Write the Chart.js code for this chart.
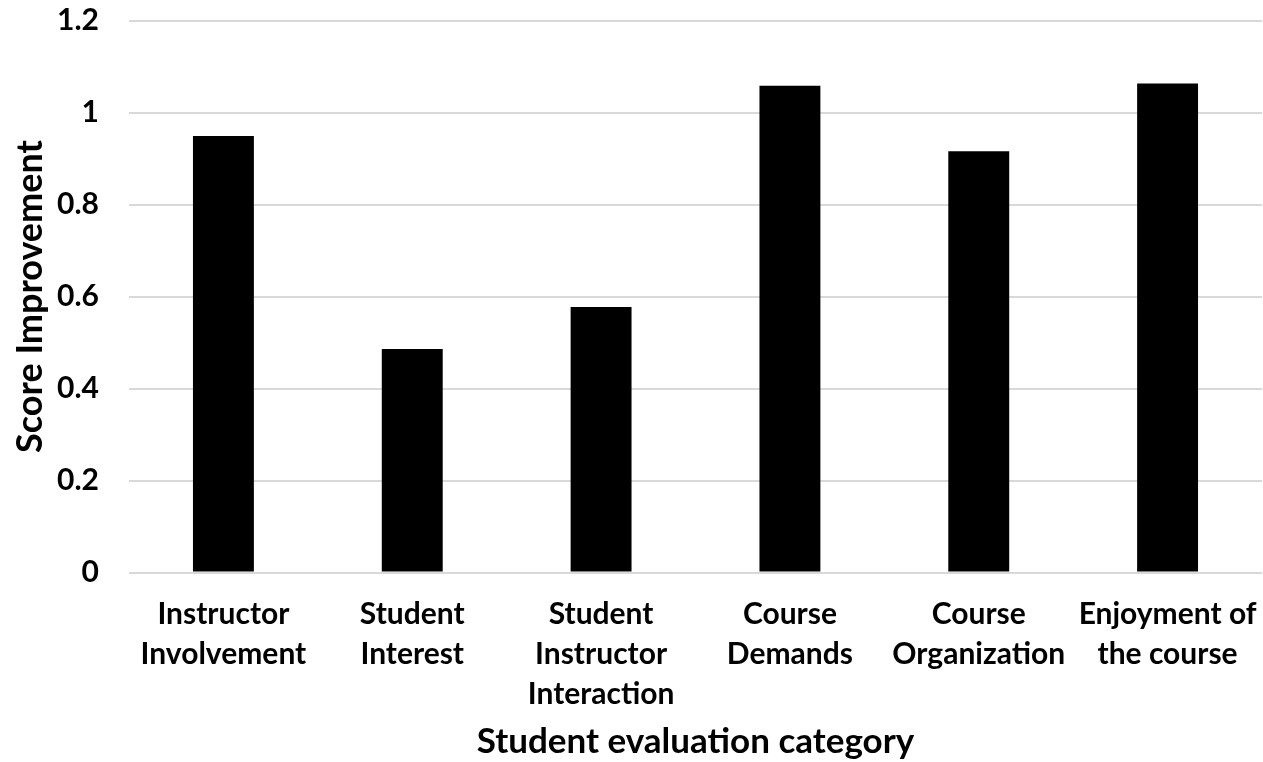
<!DOCTYPE html>
<html>
<head>
<meta charset="utf-8">
<script src="https://cdn.jsdelivr.net/npm/chart.js@4.4.1/dist/chart.umd.min.js"></script>
<style>
  html, body { margin: 0; padding: 0; background: #ffffff; }
  #wrap { width: 1263px; height: 762px; position: relative; }
</style>
</head>
<body>
<div id="wrap"><canvas id="c"></canvas></div>
<script>
const categories = [
  ["Instructor", "Involvement"],
  ["Student", "Interest"],
  ["Student", "Instructor", "Interaction"],
  ["Course", "Demands"],
  ["Course", "Organization"],
  ["Enjoyment of", "the course"]
];
const scoreImprovement = [0.949, 0.486, 0.577, 1.058, 0.916, 1.063];
const yMin = 0;
const yMax = 1.2;
const yStep = 0.2;
const xTitle = "Student evaluation category";
const yTitle = "Score Improvement";

const FONT = "Lato, 'Open Sans', 'Liberation Sans', sans-serif";

new Chart(document.getElementById('c'), {
  type: 'bar',
  data: {
    labels: categories,
    datasets: [{
      label: yTitle,
      data: scoreImprovement,
      backgroundColor: '#000000',
      borderWidth: 0,
      categoryPercentage: 1.0,
      barPercentage: 0.3226
    }]
  },
  options: {
    responsive: true,
    maintainAspectRatio: false,
    animation: false,
    layout: { padding: { top: 20.5, right: 1, bottom: 0, left: 0 } },
    plugins: {
      legend: { display: false },
      tooltip: { enabled: false }
    },
    scales: {
      x: {
        grid: { display: false, drawTicks: false },
        border: { display: false },
        ticks: {
          color: '#000000',
          font: { family: FONT, size: 30, weight: 'bold', lineHeight: 1.3333 },
          padding: 21.5,
          maxRotation: 0,
          autoSkip: false
        },
        title: {
          display: true,
          text: xTitle,
          color: '#000000',
          font: { family: FONT, size: 35, weight: 'bold', lineHeight: 1.0 },
          padding: { top: 0, bottom: 2.5 }
        },
        afterFit: function(scale) {
          scale.height = 189.5;
          scale.paddingLeft = 0;
          scale.paddingRight = 0;
        }
      },
      y: {
        min: yMin,
        max: yMax,
        grid: { color: '#d9d9d9', lineWidth: 2, drawTicks: false },
        border: { display: false },
        ticks: {
          stepSize: yStep,
          color: '#000000',
          font: { family: FONT, size: 30, weight: 'bold' },
          padding: 30,
          callback: function(v) { return String(Number(v.toFixed(1))); }
        },
        title: {
          display: true,
          text: yTitle,
          color: '#000000',
          font: { family: FONT, size: 36, weight: 'bold', lineHeight: 1.2 },
          padding: { top: 8.5, bottom: 0 }
        },
        afterFit: function(scale) {
          scale.width = 129;
          scale.paddingTop = 0;
          scale.paddingBottom = 0;
        }
      }
    }
  }
});
</script>
</body>
</html>
